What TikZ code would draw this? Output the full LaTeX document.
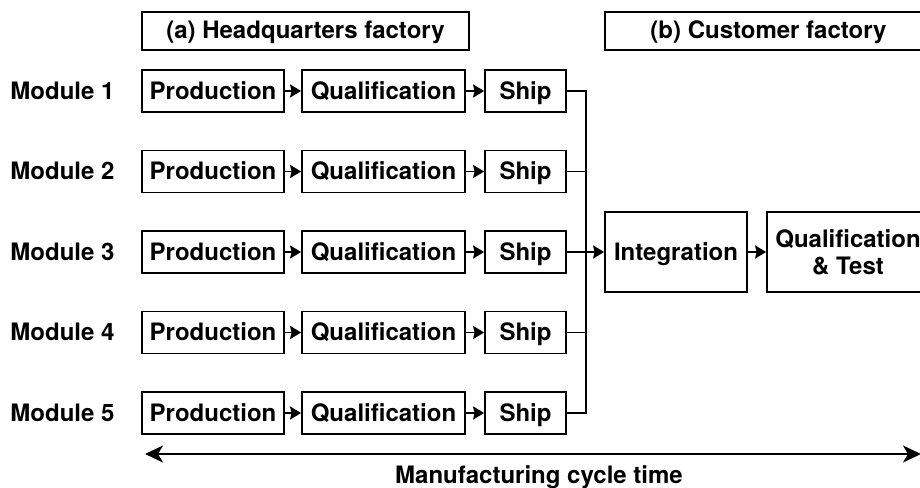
\documentclass[tikz,border=0pt]{standalone}
\usepackage{fontspec}
\setmainfont{TeX Gyre Heros}
\usetikzlibrary{arrows.meta}
\begin{document}
\begin{tikzpicture}[x=1pt,y=-1pt,
  every node/.style={font=\bfseries\fontsize{24}{27}\selectfont, inner sep=0pt},
  lbl/.style={text height=18pt, text depth=2pt},
  box/.style={draw, lbl, line width=1.8pt, minimum height=42pt},
  prodbox/.style={box, minimum width=142pt},
  qualbox/.style={box, minimum width=163pt},
  shipbox/.style={box, minimum width=81pt},
  hdrbox/.style={draw, lbl, line width=1.8pt, minimum width=327pt, minimum height=38pt},
  bigbox/.style={draw, line width=1.8pt, minimum height=80pt, align=center},
  link/.style={line width=1.8pt},
  flow/.style={link, -{Stealth[length=11pt,width=13pt,inset=1.5pt]}},
  span/.style={line width=1.8pt,
    {Stealth[length=18pt,width=17pt,inset=5pt]}-{Stealth[length=18pt,width=17pt,inset=5pt]}}
]
\useasboundingbox (0,0) rectangle (920,487);
\clip (0,0) rectangle (920,487);

% section headers
\node[hdrbox] (hq) at (305.5,31) {(a) Headquarters factory};
\node[hdrbox] (cf) at (768.5,31) {(b) Customer factory};

% module rows
\foreach \i/\y in {1/91, 2/171.5, 3/252, 4/332.5, 5/413} {
  \node[lbl] (m\i) at (62.5,\y) {Module \i};
  \node[prodbox] (p\i) at (213,\y) {Production};
  \node[qualbox] (q\i) at (383.5,\y) {Qualification};
  \node[shipbox] (s\i) at (525.5,\y) {Ship};
  \draw[flow] (p\i) -- (q\i);
  \draw[flow] (q\i) -- (s\i);
}

% customer side
\node[bigbox, minimum width=142pt, lbl] (int) at (676,252) {Integration};
\node[bigbox, minimum width=162pt] (qt) at (848,252) {Qualification\\\& Test};
\draw[flow] (int) -- (qt);

% collecting bus from all shipments
\coordinate (bt) at (586,91);
\coordinate (bb) at (586,413);
\draw[link] (s1.east) -- (bt) -- (bb) -- (s5.east);
\draw[link] (s2.east) -- (586,171.5);
\draw[link] (s4.east) -- (586,332.5);
\draw[flow] (s3.east) -- (int.west);

% overall cycle time
\coordinate (cl) at (145,454);
\coordinate (cr) at (921,454);
\draw[span] (cl) -- (cr);
\node[anchor=base] (ct) at (539,483) {Manufacturing cycle time};
\end{tikzpicture}
\end{document}
